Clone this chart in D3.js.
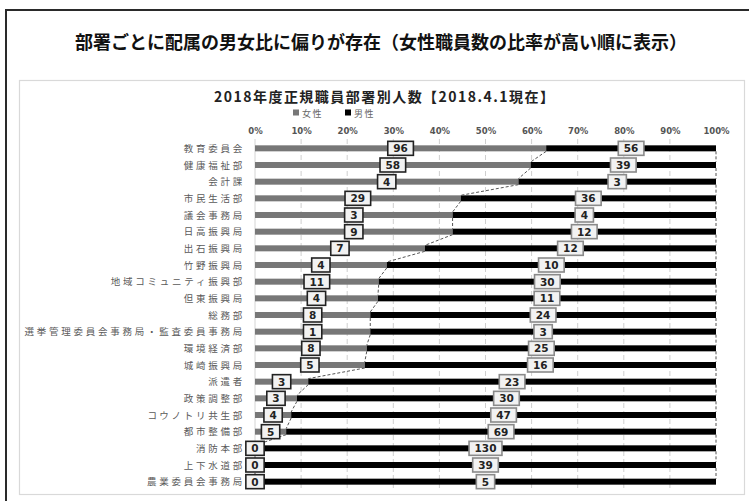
<!DOCTYPE html>
<html>
<head>
<meta charset="utf-8">
<script src="https://cdn.jsdelivr.net/npm/d3@7"></script>
<style>
  html, body { margin: 0; padding: 0; background: #fff; }
  svg { display: block; }
</style>
</head>
<body>
<svg id="chart" width="749" height="501"></svg>
<script>
// Departments, ordered by share of female staff (highest first)
const categories = [
  "教育委員会", "健康福祉部", "会計課", "市民生活部", "議会事務局",
  "日高振興局", "出石振興局", "竹野振興局", "地域コミュニティ振興部", "但東振興局",
  "総務部", "選挙管理委員会事務局・監査委員事務局", "環境経済部", "城崎振興局", "派遣者",
  "政策調整部", "コウノトリ共生部", "都市整備部", "消防本部", "上下水道部",
  "農業委員会事務局"
];
const femaleCounts = [96, 58, 4, 29, 3, 9, 7, 4, 11, 4, 8, 1, 8, 5, 3, 3, 4, 5, 0, 0, 0];
const maleCounts   = [56, 39, 3, 36, 4, 12, 12, 10, 30, 11, 24, 3, 25, 16, 23, 30, 47, 69, 130, 39, 5];
const tickValues = [0, 0.1, 0.2, 0.3, 0.4, 0.5, 0.6, 0.7, 0.8, 0.9, 1];
const tickLabels = ["0%", "10%", "20%", "30%", "40%", "50%", "60%", "70%", "80%", "90%", "100%"];
const seriesNames = ["女性", "男性"];

const svg = d3.select("#chart");
const JP = "'Noto Sans CJK JP', 'Noto Sans', sans-serif";
const NUM = "'DejaVu Sans', Verdana, sans-serif";

const rows = categories.map((c, i) => {
  const total = femaleCounts[i] + maleCounts[i];
  return { name: c, f: femaleCounts[i], m: maleCounts[i], fr: femaleCounts[i] / total };
});

// page frame and chart panel
svg.append("rect").attr("x", 6).attr("y", 10).attr("width", 800).attr("height", 600)
  .attr("fill", "#fff").attr("stroke", "#2a2a2a").attr("stroke-width", 2);
svg.append("rect").attr("x", 19.5).attr("y", 80.5).attr("width", 725).attr("height", 414)
  .attr("fill", "#fff").attr("stroke", "#d9d9d9").attr("stroke-width", 1.2);

// headline
svg.append("text").attr("x", 381).attr("y", 49).attr("text-anchor", "middle")
  .attr("font-family", JP).attr("font-size", 18).attr("font-weight", 700).attr("fill", "#111")
  .text("部署ごとに配属の男女比に偏りが存在（女性職員数の比率が高い順に表示）");

// chart title
svg.append("text").attr("x", 384).attr("y", 102).attr("text-anchor", "middle")
  .attr("font-family", JP).attr("font-size", 14).attr("font-weight", 700).attr("fill", "#222")
  .attr("textLength", 340).attr("lengthAdjust", "spacing")
  .text("2018年度正規職員部署別人数【2018.4.1現在】");

// scales
const x = d3.scaleLinear().domain([0, 1]).range([255, 716]);
const y = d3.scaleBand().domain(categories).range([140, 490]);
const cy = d => y(d) + y.bandwidth() / 2;
const barH = 6;
const colors = ["#777777", "#000000"];

// legend
const legend = svg.append("g").attr("font-family", JP).attr("font-size", 9).attr("letter-spacing", 1.5).attr("fill", "#666");
[[293, 0], [345, 1]].forEach(([lx, k]) => {
  legend.append("rect").attr("x", lx).attr("y", 109.5).attr("width", 6).attr("height", 6).attr("fill", colors[k]);
  legend.append("text").attr("x", lx + 9).attr("y", 116.5).text(seriesNames[k]);
});

// vertical gridlines
svg.append("g").selectAll("line").data(tickValues.slice(1, -1)).join("line")
  .attr("x1", d => x(d)).attr("x2", d => x(d)).attr("y1", 139).attr("y2", 489)
  .attr("stroke", "#cfcfcf").attr("stroke-width", 1).attr("stroke-dasharray", "5,3");
svg.append("line").attr("x1", x(0)).attr("x2", x(0)).attr("y1", 139).attr("y2", 489)
  .attr("stroke", "#d4d4d4").attr("stroke-width", 1);

// percentage axis on top
const axis = d3.axisTop(x).tickValues(tickValues)
  .tickFormat((d, i) => tickLabels[i]).tickSize(0).tickPadding(3);
const ag = svg.append("g").attr("transform", "translate(0,137)").call(axis);
ag.select(".domain").remove();
ag.selectAll("text").attr("font-family", NUM).attr("font-size", 8.5).attr("font-weight", 700).attr("fill", "#555");

// category labels
svg.append("g").selectAll("text").data(rows).join("text")
  .attr("x", 245).attr("y", d => cy(d.name) + 3.5).attr("text-anchor", "end")
  .attr("font-family", JP).attr("font-size", 9.5).attr("letter-spacing", 2.75).attr("fill", "#5a5a5a")
  .text(d => d.name);

// stacked 100% bars
const bars = svg.append("g");
bars.selectAll("rect.f").data(rows).join("rect").attr("class", "f")
  .attr("x", x(0)).attr("y", d => cy(d.name) - barH / 2)
  .attr("width", d => x(d.fr) - x(0)).attr("height", barH).attr("fill", colors[0]);
bars.selectAll("rect.m").data(rows).join("rect").attr("class", "m")
  .attr("x", d => x(d.fr)).attr("y", d => cy(d.name) - barH / 2)
  .attr("width", d => x(1) - x(d.fr)).attr("height", barH).attr("fill", colors[1]);

// series lines joining the segment ends of neighbouring bars
const links = d3.pairs(rows);
const sl = svg.append("g").attr("stroke", "#555").attr("stroke-width", 1).attr("stroke-dasharray", "3,2").attr("fill", "none");
sl.selectAll("line.f").data(links).join("line").attr("class", "f")
  .attr("x1", ([a]) => x(a.fr)).attr("y1", ([a]) => cy(a.name) + barH / 2)
  .attr("x2", ([, b]) => x(b.fr)).attr("y2", ([, b]) => cy(b.name) - barH / 2);
sl.selectAll("line.m").data(links).join("line").attr("class", "m")
  .attr("x1", x(1)).attr("y1", ([a]) => cy(a.name) + barH / 2)
  .attr("x2", x(1)).attr("y2", ([, b]) => cy(b.name) - barH / 2);

// boxed value labels at the middle of each segment
function addLabels(cls, getX, getV, stroke) {
  const g = svg.append("g").selectAll("g." + cls).data(rows).join("g").attr("class", cls)
    .attr("transform", d => `translate(${getX(d)},${cy(d.name)})`);
  g.append("rect").attr("fill", "#f2f2f2").attr("stroke", stroke).attr("stroke-width", 1.6);
  const t = g.append("text").attr("text-anchor", "middle").attr("y", 4)
    .attr("font-family", NUM).attr("font-size", 10.5).attr("font-weight", 700).attr("fill", "#222")
    .text(getV);
  t.each(function() {
    const w = this.getComputedTextLength() + 11;
    d3.select(this.parentNode).select("rect")
      .attr("x", -w / 2).attr("y", -7).attr("width", w).attr("height", 14);
  });
}
addLabels("fl", d => x(d.fr / 2), d => d.f, "#222");
addLabels("ml", d => x((d.fr + 1) / 2), d => d.m, "#8a8a8a");
</script>
</body>
</html>
